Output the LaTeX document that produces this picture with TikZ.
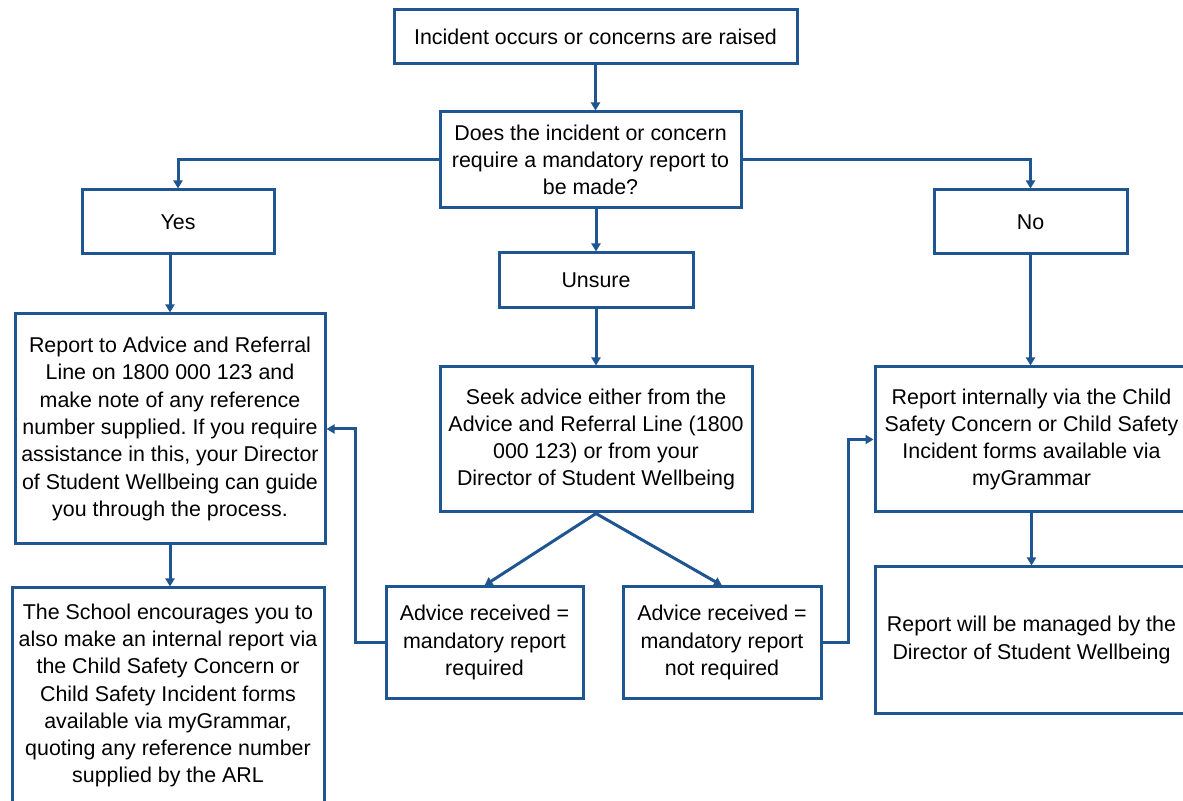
\documentclass[tikz,border=0pt]{standalone}
\usepackage{fontspec}
\setmainfont{Liberation Sans}
\usetikzlibrary{arrows.meta,positioning}
\definecolor{c1}{HTML}{1F5591}
\frenchspacing

\begin{document}
\begin{tikzpicture}[
  >={Triangle[length=4pt,width=4.5pt]},
  box/.style={rectangle,draw=c1,line width=1.5pt,fill=white,inner sep=0pt,align=center,
    font=\fontsize{10.7pt}{13.65pt}\selectfont},
  link/.style={c1,line width=1.5pt},
  x=0.5pt,y=-0.5pt]

\clip (0,0) rectangle (1183,801);

% top row
\node[box,minimum width=201.5pt,minimum height=27pt] (start) at (595.5,37) {Incident occurs or concerns are raised};
\node[box,minimum width=150.5pt,minimum height=48pt] (ques) at (590.5,160)
  {Does the incident or concern\\require a mandatory report to\\be made?};

% answers
\node[box,minimum width=96pt,minimum height=32pt] (yes) at (178,222) {Yes};
\node[box,minimum width=96.5pt,minimum height=32pt] (no) at (1030.5,222) {No};
\node[box,minimum width=97pt,minimum height=27.5pt] (unsure) at (596,280.5) {Unsure};

% actions
\node[box,minimum width=155pt,minimum height=115pt] (yesrep) at (170,429)
  {Report to Advice and Referral\\Line on 1800 000 123 and\\make note of any reference\\number supplied. If you require\\assistance in this, your Director\\of Student Wellbeing can guide\\you through the process.};
\node[box,minimum width=156pt,minimum height=72.5pt] (seek) at (596,439.5)
  {Seek advice either from the\\Advice and Referral Line (1800\\000 123) or from your\\Director of Student Wellbeing};
\node[box,minimum width=156.5pt,minimum height=72.5pt] (intrep) at (1031.5,439.5)
  {Report internally via the Child\\Safety Concern or Child Safety\\Incident forms available via\\myGrammar};

% outcomes
\node[box,minimum width=98.5pt,minimum height=55.5pt] (advreq) at (484.5,642.5)
  {Advice received =\\mandatory report\\required};
\node[box,minimum width=99pt,minimum height=55.5pt] (advnot) at (722,642.5)
  {Advice received =\\mandatory report\\not required};
\node[box,minimum width=156pt,minimum height=107.5pt] (school) at (168,695.5)
  {The School encourages you to\\also make an internal report via\\the Child Safety Concern or\\Child Safety Incident forms\\available via myGrammar,\\quoting any reference number\\supplied by the ARL};
\node[box,minimum width=156.5pt,minimum height=73pt] (managed) at (1031.5,640)
  {Report will be managed by the\\Director of Student Wellbeing};

% connectors
\draw[link,->] (start.south) -- (start.south |- ques.north);
\draw[link,->] (ques.west) -| (yes.north);
\draw[link,->] (ques.east) -| (no.north);
\draw[link,->] (ques.south -| unsure.north) -- (unsure.north);
\draw[link,->] (unsure.south) -- (seek.north);
\draw[link,->] (yes.south -| yesrep.north) -- (yesrep.north);
\draw[link,->] (yesrep.south) -- (yesrep.south |- school.north);
\draw[link,->] (no.south) -- (no.south |- intrep.north);
\draw[link,->] (intrep.south) -- (managed.north);
\draw[link,->] (seek.south) -- (advreq.north);
\draw[link,->] (seek.south) -- (advnot.north);
\draw[link,->] (advreq.west) -- ++(-29,0) |- (yesrep.east);
\draw[link,->] (advnot.east) -- ++(26,0) |- (intrep.west);
\end{tikzpicture}
\end{document}
